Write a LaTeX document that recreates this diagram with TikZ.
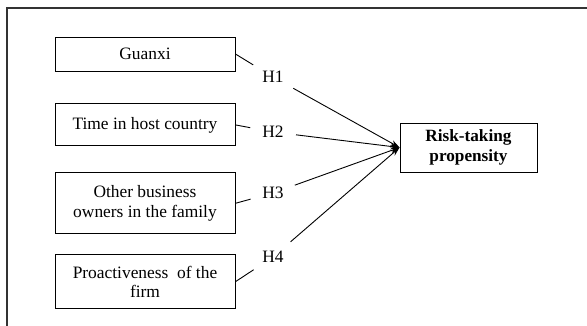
\documentclass[tikz,border=0pt]{standalone}
\usepackage{fontspec}
\setmainfont{Liberation Serif}
\usetikzlibrary{positioning,arrows.meta}

\tikzset{
	factor/.style={draw, line width=0.9pt, minimum width=180pt, align=center, font=\fontsize{17.4}{19.5}\selectfont},
	outcome/.style={factor, minimum width=137pt, minimum height=49pt, font=\fontsize{17.2}{20}\selectfont\bfseries},
	hyp/.style={circle, minimum size=46pt, inner sep=0pt, font=\fontsize{17.4}{19.5}\selectfont},
	link/.style={line width=0.9pt},
	effect/.style={line width=0.9pt, -{Stealth[length=9pt,width=6pt]}},
	frame/.style={line width=1.2pt, black!80}
}

\begin{document}
\begin{tikzpicture}[x=1pt,y=-1pt]
	\useasboundingbox (0,0) rectangle (587,326);
	\draw[frame] (7,326) -- (7,8) -- (587,8);

	\node[factor, minimum height=34pt] (guanxi) at (145,54) {Guanxi};
	\node[factor, minimum height=42pt, below=32pt of guanxi] (time) {Time in host country};
	\node[factor, minimum height=61pt, below=26pt of time] (family) {Other business\\owners in the family};
	\node[factor, minimum height=54pt, below=20pt of family] (proactive) {Proactiveness\ \ of the\\firm};
	\node[outcome] (risk) at (468.5,147.5) {Risk-taking\\propensity};

	\node[hyp] (h1) at (273,77) {H1};
	\node[hyp] (h2) at (273,132) {H2};
	\node[hyp] (h3) at (273,193) {H3};
	\node[hyp] (h4) at (273,257) {H4};

	\draw[link] (guanxi.east) -- (h1);
	\draw[link] (time.east) -- (h2);
	\draw[link] (family.east) -- (h3);
	\draw[link] (proactive.east) -- (h4);

	\draw[effect] (h1) -- (risk.west);
	\draw[effect] (h2) -- (risk.west);
	\draw[effect] (h3) -- (risk.west);
	\draw[effect] (h4) -- (risk.west);
\end{tikzpicture}
\end{document}
